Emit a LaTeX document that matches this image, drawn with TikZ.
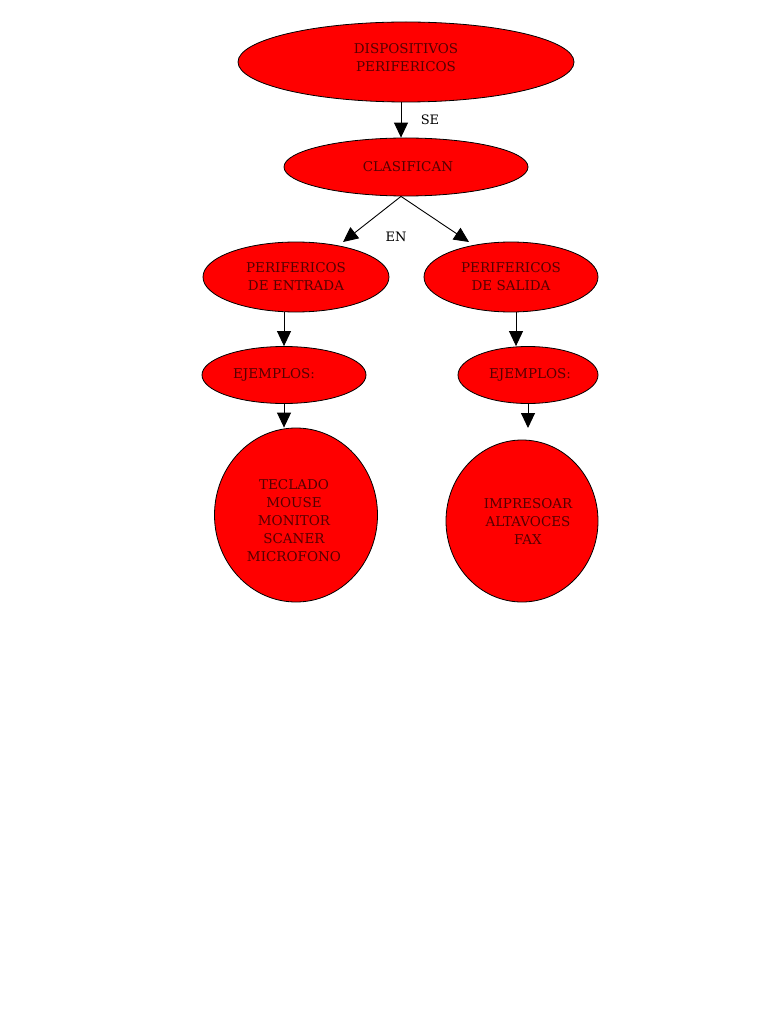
\documentclass[tikz,border=0pt]{standalone}
\usepackage{fontspec}
\setmainfont{DejaVu Serif}
\usetikzlibrary{shapes.geometric,arrows.meta}
\definecolor{fillred}{RGB}{255,0,0}
\definecolor{txtred}{RGB}{85,0,0}
\tikzset{
  oval/.style={ellipse, draw=black, line width=0.8pt, fill=fillred, inner sep=0pt},
  ovaltxt/.style={text=txtred, align=center, inner sep=0pt, font=\fontsize{13.5}{18}\selectfont},
  arr/.style={draw=black, line width=0.9pt, -{Triangle[width=14pt,length=15pt]}},
  lbl/.style={font=\fontsize{13}{15}\selectfont, text=black, inner sep=0pt}
}
\begin{document}
\begin{tikzpicture}[x=1pt,y=-1pt]
\useasboundingbox[fill=white] (0,0) rectangle (768,1024);
\node[oval, minimum width=336pt, minimum height=80pt,
  label={[ovaltxt, yshift=4pt]center:DISPOSITIVOS\\PERIFERICOS}] (top) at (406,62) {};
\node[oval, minimum width=244pt, minimum height=58pt,
  label={[ovaltxt, xshift=2pt]center:CLASIFICAN}] (clas) at (406,167) {};
\node[oval, minimum width=186pt, minimum height=70pt,
  label={[ovaltxt]center:PERIFERICOS\\DE ENTRADA}] (pe) at (296,277) {};
\node[oval, minimum width=174pt, minimum height=70pt,
  label={[ovaltxt]center:PERIFERICOS\\DE SALIDA}] (ps) at (511,277) {};
\node[oval, minimum width=164pt, minimum height=57pt,
  label={[ovaltxt, xshift=-10pt]center:EJEMPLOS:}] (ejL) at (284,375) {};
\node[oval, minimum width=140pt, minimum height=57pt,
  label={[ovaltxt, xshift=2pt]center:EJEMPLOS:}] (ejR) at (528,375) {};
\node[oval, minimum width=163pt, minimum height=174pt,
  label={[ovaltxt, yshift=-6pt, xshift=-2pt]center:TECLADO\\MOUSE\\MONITOR\\SCANER\\MICROFONO}] (ecL) at (296,515) {};
\node[oval, minimum width=152pt, minimum height=162pt,
  label={[ovaltxt, xshift=6pt]center:IMPRESOAR\\ALTAVOCES\\FAX}] (ecR) at (522,521) {};
\coordinate (tipL) at (343,242);
\coordinate (tipR) at (469,242);
\coordinate (tipRR) at (528,428);
\draw[arr] ([xshift=-5pt]top.south) -- ([xshift=-5pt]top.south |- clas.north);
\draw[arr] ([xshift=-5pt]clas.south) -- (tipL);
\draw[arr] ([xshift=-5pt]clas.south) -- (tipR);
\draw[arr] (ejL.north |- pe.south) -- (ejL.north);
\draw[arr] ([xshift=5pt]ps.south) -- ([xshift=5pt]ps.south |- ejR.north);
\draw[arr] (ejL.south) -- (ejL.south |- ecL.north);
\draw[arr] (ejR.south) -- (tipRR);
\node[lbl] (se) at (430,120) {SE};
\node[lbl] (en) at (396,237) {EN};
\end{tikzpicture}
\end{document}
